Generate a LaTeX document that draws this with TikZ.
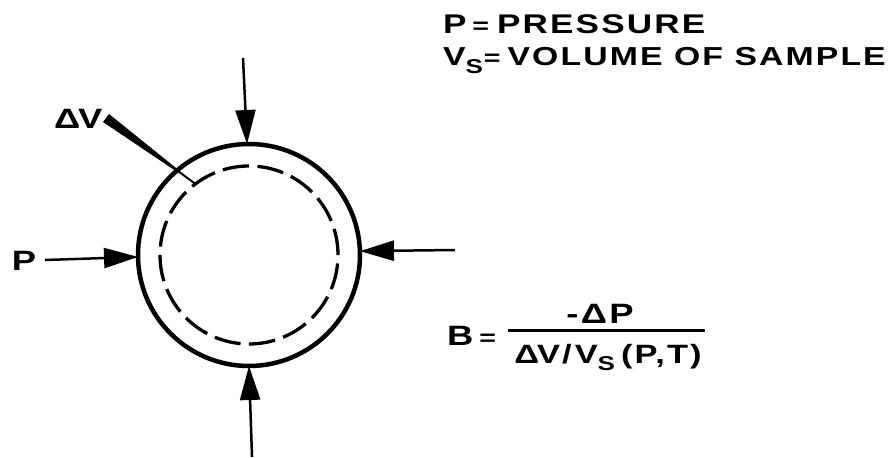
\documentclass[tikz,border=0pt]{standalone}
\usepackage{fontspec}
\setmainfont{Liberation Sans Bold}[FakeStretch=1.3,LetterSpace=8]
\usetikzlibrary{arrows.meta,calc}

\newcommand{\subS}[1]{\raisebox{#1}{\fontsize{20}{20}\selectfont S}}
\newcommand{\eqsign}{{\fontsize{22}{22}\selectfont=}}

\begin{document}
\begin{tikzpicture}[
  x=1pt,y=-1pt,
  every node/.style={inner sep=0pt,outer sep=0pt},
  label/.style={font=\fontsize{28}{30}\selectfont,anchor=base west},
  legend/.style={font=\fontsize{27}{29}\selectfont,anchor=base west},
  push/.style={-{Triangle[length=34pt,width=20pt]},line width=2.5pt},
  sample/.style={circle,draw,line width=4.5pt,minimum size=222pt},
  boundary/.style={circle,draw,line width=3.3pt,minimum size=178pt,dash pattern=on 26.5pt off 8.45pt}
]
\useasboundingbox (0,0) rectangle (892,458);
% sample and its compressed boundary
\node[sample] (sample) at (249,255) {};
\node[boundary] (core) at (249,255) {};
% pressure on four sides
\coordinate (ntail) at (243,58);
\coordinate (stail) at (252,457);
\coordinate (wtail) at (45,260);
\coordinate (etail) at (455,250);
\draw[push] (ntail) -- (sample.91.5);
\draw[push] (stail) -- (sample.270.5);
\draw[push] (wtail) -- (sample.181.5);
\draw[push] (etail) -- (sample.2.5);
\node[label] (plabel) at (12,270) {P};
% volume change leader
\node[label] (dvlabel) at (54,128) {Δ\kern-2ptV};
\coordinate (dvroot) at (106,118);
\coordinate (dvend) at (core.127);
\coordinate (dvmid) at ($(dvroot)!0.8!(dvend)$);
\fill ($(dvroot)!5pt!90:(dvmid)$) -- ($(dvroot)!5pt!-90:(dvmid)$)
  -- ($(dvmid)!1.2pt!90:(dvroot)$) -- ($(dvmid)!1.2pt!-90:(dvroot)$) -- cycle;
\draw[line width=2pt] (dvmid) -- (dvend);
% legend
\node[legend] (pdef) at (443,33) {P\hspace{6pt}\eqsign\hspace{8pt}PRESSURE};
\node[legend,font=\fontsize{26}{29}\selectfont] (vdef) at (443,65) {V\subS{-8pt}\hspace{1pt}\eqsign\hspace{7pt}VOLUME OF SAMPLE};
% bulk modulus
\node[label] (bulk) at (447,345) {B\hspace{6pt}\eqsign};
\node[label,anchor=base] (num) at (600,323) {-ΔP};
\node[label,anchor=base,font=\fontsize{26.5}{30}\selectfont] (den) at (608,363) {Δ\kern-2ptV/\hspace{3pt}V\subS{-7pt}\hspace{6pt}(P,T)};
\coordinate (barL) at (508,330);
\coordinate (barR) at (705,330);
\draw[line width=3pt] (barL) -- (barR);
\end{tikzpicture}
\end{document}
